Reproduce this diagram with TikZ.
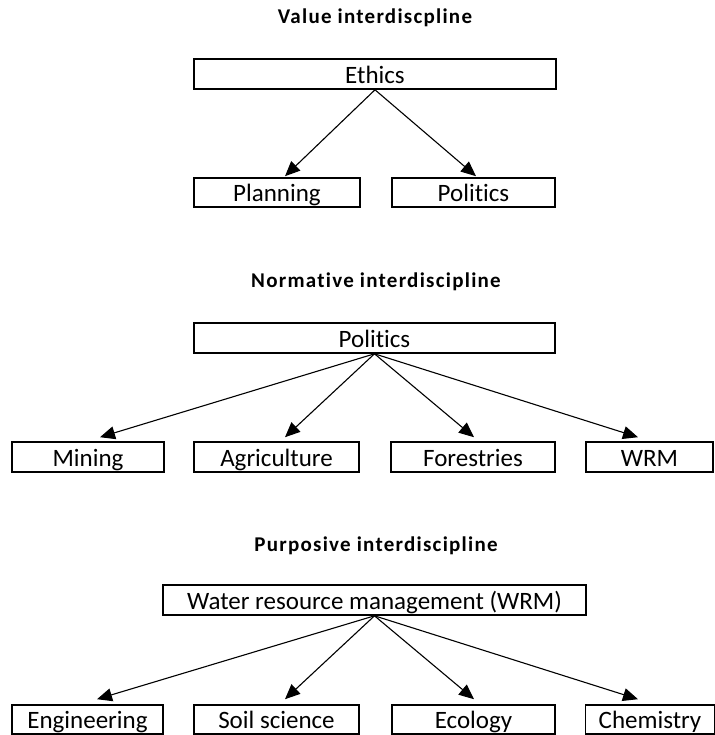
\documentclass[tikz,border=0pt]{standalone}
\usepackage{fontspec}
\setmainfont{Carlito}[Ligatures=NoCommon]
\newfontfamily\headfont{Carlito}[LetterSpace=6,Ligatures=NoCommon]
\usetikzlibrary{arrows.meta,calc}
\begin{document}
\begin{tikzpicture}[x=0.5pt,y=-0.5pt,
  box/.style={draw,line width=0.8pt,inner sep=0pt,minimum height=15pt,
    text height=9.8pt,text depth=0.8pt,
    font=\fontsize{12.5}{14}\selectfont},
  heading/.style={font=\headfont\fontsize{10.5}{12}\selectfont\bfseries,inner sep=0pt},
  arr/.style={line width=0.55pt,-{Triangle[length=7.5pt,width=6.5pt]}}]
\useasboundingbox (0,0) rectangle (715,735);

% Value interdiscipline
\node[heading] (h1) at (375,18) {Value interdiscpline};
\node[box,minimum width=181pt] (ethics) at (375,74) {Ethics};
\node[box,minimum width=83pt,minimum height=14.5pt] (plan) at (277,192.5) {Planning};
\node[box,minimum width=81.5pt,minimum height=14.5pt] (polA) at (473.5,192.5) {Politics};
\draw[arr] (ethics.south) -- ($(plan.north)+(8,-1)$);
\draw[arr] (ethics.south) -- ($(polA.north)+(2.5,-1)$);

% Normative interdiscipline
\node[heading] (h2) at (376,282) {Normative interdiscipline};
\node[box,minimum width=180.5pt] (polB) at (374.5,338) {Politics};
\node[box,minimum width=76pt] (mining) at (88,457) {Mining};
\node[box,minimum width=82.5pt] (agri) at (276.5,457) {Agriculture};
\node[box,minimum width=82pt] (forest) at (473,457) {Forestries};
\node[box,minimum width=63.5pt] (wrmA) at (649.5,457) {WRM};
\draw[arr] (polB.south) -- ($(mining.north)+(12,-4)$);
\draw[arr] (polB.south) -- ($(agri.north)+(8.5,-4)$);
\draw[arr] (polB.south) -- ($(forest.north)+(1,-4)$);
\draw[arr] (polB.south) -- ($(wrmA.north)+(-11.5,-4)$);

% Purposive interdiscipline
\node[heading] (h3) at (376,546) {Purposive interdiscipline};
\node[box,minimum width=211.5pt] (wrmB) at (374.5,600) {Water resource management (WRM)};
\node[box,minimum width=75.5pt,minimum height=14.5pt] (eng) at (87.5,719.5) {Engineering};
\node[box,minimum width=82.5pt,minimum height=14.5pt] (soil) at (276.5,719.5) {Soil science};
\node[box,minimum width=81.5pt,minimum height=14.5pt] (eco) at (473.5,719.5) {Ecology};
\node[box,minimum width=64.5pt,minimum height=14.5pt] (chem) at (650,719.5) {Chemistry};
\draw[arr] (wrmB.south) -- ($(eng.north)+(9.5,-5)$);
\draw[arr] (wrmB.south) -- ($(soil.north)+(8.5,-5)$);
\draw[arr] (wrmB.south) -- ($(eco.north)+(0.5,-5)$);
\draw[arr] (wrmB.south) -- ($(chem.north)+(-12,-5)$);
\end{tikzpicture}
\end{document}
